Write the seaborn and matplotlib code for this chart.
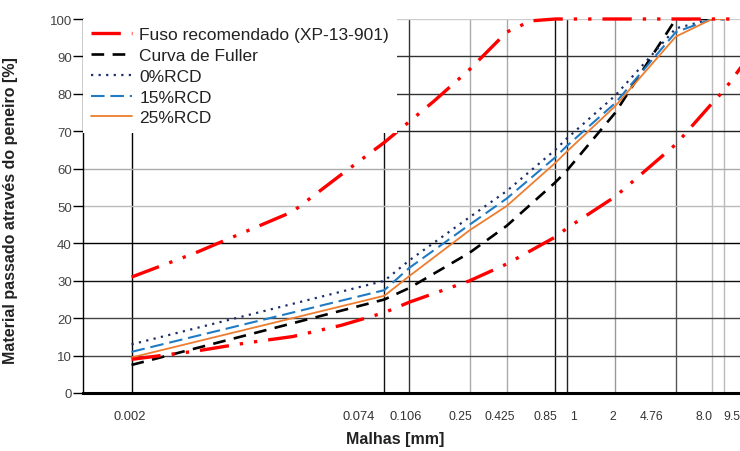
import numpy as np
import pandas as pd
import matplotlib
matplotlib.use("Agg")
import matplotlib.pyplot as plt
import matplotlib.transforms as mtrans
import seaborn as sns

# ---- data ----
sieves = [0.002, 0.074, 0.106, 0.25, 0.425, 0.85, 1, 2, 4.76, 8.0, 9.5]
sieve_labels = ["0.002", "0.074", "0.106", "0.25", "0.425", "0.85", "1", "2", "4.76", "8.0", "9.5"]
fuller = [7.5, 25, 28.1, 37.5, 44.7, 56.3, 59.4, 74.9, 100, 100, 100]
rcd0 = [13, 30, 35.5, 47, 54, 65, 68, 79.5, 97.5, 100, 100]
rcd15 = [11, 27.5, 33.5, 45, 52, 63, 66, 77.5, 96.5, 100, 100]
rcd25 = [9.5, 26, 31.3, 43.5, 50, 61.5, 64.5, 76.7, 95.3, 100, 100]

fuso_sup_x = [0.002, 0.005, 0.01, 0.02, 0.04, 0.074, 0.106, 0.15, 0.25, 0.425, 0.6, 0.85, 1, 2, 4.76, 8.0, 9.5, 12]
fuso_sup_y = [31, 37.5, 43, 48.5, 58.4, 67, 72.6, 78, 86.5, 96.5, 99.5, 100, 100, 100, 100, 100, 100, 100]
fuso_inf_x = [0.002, 0.005, 0.01, 0.02, 0.04, 0.074, 0.106, 0.25, 0.425, 0.85, 1, 2, 4.76, 8.0, 9.5, 12.5, 19]
fuso_inf_y = [9, 11.2, 13.3, 15.1, 18.1, 21.5, 24.3, 30, 34.5, 41.7, 44, 52.5, 66.5, 77.5, 81, 88, 100]

# horizontal pixel shift and size of each x tick label (layout only)
label_shift_px = [-2, -26, -4, -9, -7, -10, 7, -2, -24, -8, 8]
label_sizes = [9.3, 9.3, 9.3, 8.7, 8.7, 8.7, 8.7, 8.7, 8.7, 8.7, 8.7]

sns.set_theme(style="white")
plt.rcParams['font.family'] = ['Liberation Sans', 'DejaVu Sans']

fig = plt.figure(figsize=(7.4, 4.52), dpi=100)
ax = fig.add_axes([83/740, 1-394/452, (740-83)/740, (394-20)/452])
ax.set_xscale("log")
ax.set_xlim(0.001, 11.9)
ax.set_ylim(0, 100)

# grid lines
vcols = ["#000000", "#111111", "#333333", "#aaaaaa", "#aaaaaa", "#111111", "#222222", "#999999", "#555555", "#bbbbbb", "#bbbbbb"]
for s, c in zip(sieves, vcols):
    ax.axvline(s, color=c, lw=1.0, zorder=0.5)
hcols = {10: "#444444", 20: "#444444", 30: "#111111", 40: "#000000", 50: "#bbbbbb",
         60: "#aaaaaa", 70: "#222222", 80: "#333333", 90: "#333333", 100: "#cccccc"}
for v, c in hcols.items():
    ax.axhline(v, color=c, lw=1.0, zorder=0.5)

red = "#ff0000"
fuso_ls = (0, (8.8, 3.3, 1.0, 3.3, 1.0, 3.3))
sns.lineplot(x=fuso_sup_x, y=fuso_sup_y, ax=ax, color=red, lw=2.4, linestyle=fuso_ls,
             label="Fuso recomendado (XP-13-901)", sort=False, clip_on=False, zorder=3)
sns.lineplot(x=fuso_inf_x, y=fuso_inf_y, ax=ax, color=red, lw=2.4, linestyle=fuso_ls,
             sort=False, zorder=3)
sns.lineplot(x=sieves, y=fuller, ax=ax, color="black", lw=1.9, linestyle=(0, (4.8, 3.2)),
             label="Curva de Fuller", sort=False, zorder=2)
sns.lineplot(x=sieves, y=rcd0, ax=ax, color="#1c2f6b", lw=1.6, linestyle=(0, (1, 2.4)),
             label="0%RCD", sort=False, zorder=2.1)
sns.lineplot(x=sieves, y=rcd15, ax=ax, color="#1f7bc4", lw=1.5, linestyle=(0, (6.5, 2.8)),
             label="15%RCD", sort=False, zorder=2.2)
sns.lineplot(x=sieves, y=rcd25, ax=ax, color="#ed7d31", lw=1.3, linestyle="-",
             label="25%RCD", sort=False, zorder=2.3)

# ticks
ax.minorticks_off()
ax.set_xticks(sieves)
ax.set_xticklabels(sieve_labels)
ax.tick_params(axis="x", length=0, pad=12, labelsize=8.7, labelcolor="#333333")
for t, dx, fs in zip(ax.get_xticklabels(), label_shift_px, label_sizes):
    t.set_family(['Liberation Sans Narrow', 'Liberation Sans', 'DejaVu Sans'])
    t.set_fontsize(fs)
    t.set_transform(t.get_transform() + mtrans.ScaledTranslation(dx / 100, 0, fig.dpi_scale_trans))
ax.set_yticks(range(0, 101, 10))
ax.tick_params(axis="y", length=7, width=1, direction="out", color="black",
               pad=1, labelsize=9.5, labelcolor="#444444", left=True)

for sp in ["top", "right"]:
    ax.spines[sp].set_visible(False)
ax.spines["left"].set_color("black")
ax.spines["left"].set_linewidth(1.0)
ax.spines["bottom"].set_color("black")
ax.spines["bottom"].set_linewidth(2.2)

ax.set_xlabel("Malhas [mm]", fontsize=11.5, fontweight="bold", color="#222222")
ax.xaxis.set_label_coords((395-83)/657, (394-432)/374)
ax.set_ylabel("Material passado através do peneiro [%]", fontsize=11.5, fontweight="bold", color="#222222")
ax.yaxis.set_label_coords(-(83-18)/657, 0.49)

handles, labels = ax.get_legend_handles_labels()
keep = [(h, l) for h, l in zip(handles, labels) if not l.startswith("_")]
leg = ax.legend([h for h, _ in keep], [l for _, l in keep], loc="upper left",
                bbox_to_anchor=(0.0, 1.0), frameon=True, fancybox=False,
                facecolor="white", edgecolor="none", framealpha=1.0,
                fontsize=12.5, handlelength=2.4, handletextpad=0.4,
                labelspacing=0.33, borderaxespad=0.0, borderpad=0.45)
leg.set_zorder(5)
for t in leg.get_texts():
    t.set_color("#222222")

fig.savefig("out.png", dpi=100)
